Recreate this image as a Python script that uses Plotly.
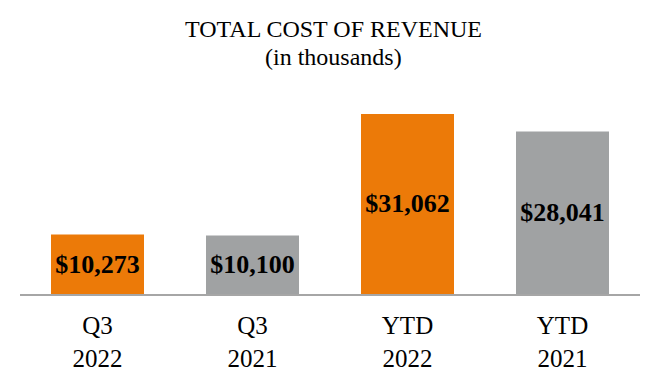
import plotly.graph_objects as go

categories = ["Q3<br>2022", "Q3<br>2021", "YTD<br>2022", "YTD<br>2021"]
values = [10273, 10100, 31062, 28041]
labels = ["$10,273", "$10,100", "$31,062", "$28,041"]
colors = ["#EC7A08", "#A0A2A3", "#EC7A08", "#A0A2A3"]
title_lines = ["TOTAL COST OF REVENUE", "(in thousands)"]

# page body has an 8px margin, so the figure is 8px smaller than the window
W, H = 652, 384
ML, MR, MT, MB = 12, 20, 92, 98
plot_h = H - MT - MB


def ypaper(y_fig):
    return (H - MB - y_fig) / plot_h


fig = go.Figure(go.Bar(
    x=categories, y=values, text=labels,
    marker=dict(color=colors, line=dict(width=0)),
    width=0.6,
    textposition="inside", insidetextanchor="middle",
    textfont=dict(family="Liberation Serif", size=26, color="black", weight="bold"),
    textangle=0,
    hoverinfo="skip",
))

for line, yf in zip(title_lines, [21.5, 49.5]):
    fig.add_annotation(
        text=line, xref="paper", yref="paper", x=0.505, y=ypaper(yf),
        xanchor="center", yanchor="middle", showarrow=False,
        font=dict(family="Liberation Serif", size=24, color="black"),
    )

fig.update_layout(
    width=W, height=H,
    margin=dict(l=ML, r=MR, t=MT, b=MB),
    paper_bgcolor="white", plot_bgcolor="white",
    showlegend=False,
    xaxis=dict(
        range=[-0.5, 3.5], showgrid=False, zeroline=False,
        showline=True, linecolor="#A6A6A6", linewidth=2,
        ticks="", tickfont=dict(family="Liberation Serif", size=25, color="black"),
        ticklabelstandoff=8,
    ),
    yaxis=dict(range=[0, 33477], visible=False),
)

fig.write_html("out.html")
